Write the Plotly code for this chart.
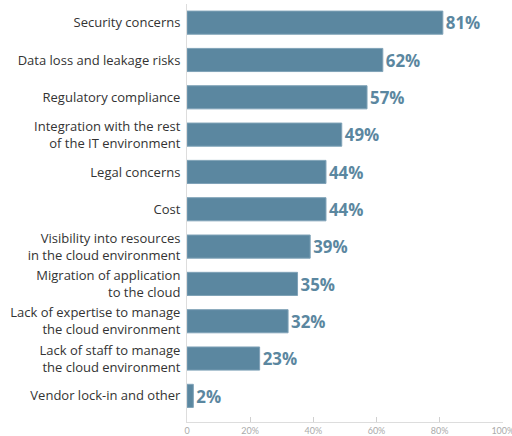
import plotly.graph_objects as go

categories = [
    "Security concerns",
    "Data loss and leakage risks",
    "Regulatory compliance",
    "Integration with the rest<br>of the IT environment",
    "Legal concerns",
    "Cost",
    "Visibility into resources<br>in the cloud environment",
    "Migration of application<br>to the cloud",
    "Lack of expertise to manage<br>the cloud environment",
    "Lack of staff to manage<br>the cloud environment",
    "Vendor lock-in and other",
]
values = [81, 62, 57, 49, 44, 44, 39, 35, 32, 23, 2]
tick_vals = [0, 20, 40, 60, 80, 100]
tick_text = ["0", "20%", "40%", "60%", "80%", "100%"]

bar_color = "#5b87a0"

fig = go.Figure(go.Bar(
    x=values,
    y=categories,
    orientation="h",
    width=0.62,
    marker=dict(color=bar_color, line=dict(color="#7fa2b7", width=1)),
    texttemplate="%{x}%",
    textposition="outside",
    textfont=dict(family="Open Sans", size=17.5, color=bar_color, weight="bold"),
    cliponaxis=False,
))

fig.update_layout(
    width=512, height=436,
    margin=dict(l=187, r=9, t=4, b=14, autoexpand=False),
    plot_bgcolor="white", paper_bgcolor="white",
    showlegend=False,
)
fig.update_xaxes(
    range=[0, 100.05], tickvals=tick_vals, ticktext=tick_text,
    showgrid=False, zeroline=False, automargin=False,
    showline=True, linecolor="#dddddd", linewidth=1,
    ticks="inside", ticklen=5, tickcolor="#d0d0d0",
    ticklabeloverflow="allow",
    tickfont=dict(family="Lato", size=9, color="#aaaaaa"),
)
fig.update_yaxes(
    type="category",
    categoryorder="array", categoryarray=categories,
    range=[10.7, -0.5], automargin=False,
    showgrid=False, zeroline=False,
    showline=True, linecolor="#dddddd", linewidth=1,
    ticks="", ticklabelstandoff=3,
    tickfont=dict(family="Open Sans", size=13, color="#333333"),
)

fig.write_html("out.html")
